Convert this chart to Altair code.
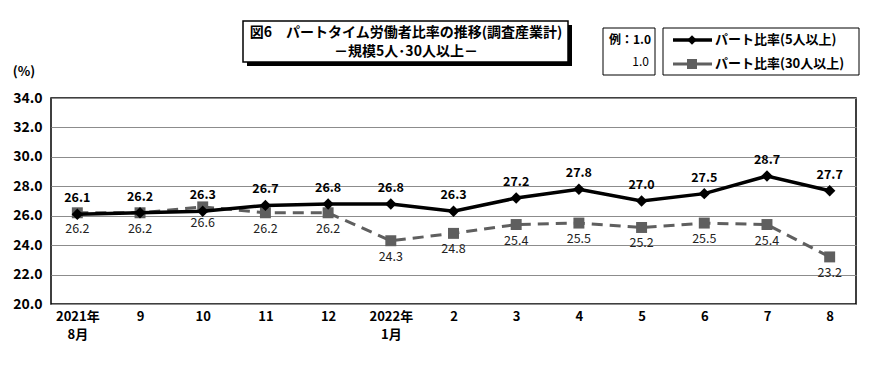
import altair as alt
import pandas as pd

months = ["2021年\n8月", "9", "10", "11", "12", "2022年\n1月", "2", "3", "4", "5", "6", "7", "8"]
part5 = [26.1, 26.2, 26.3, 26.7, 26.8, 26.8, 26.3, 27.2, 27.8, 27.0, 27.5, 28.7, 27.7]
part30 = [26.2, 26.2, 26.6, 26.2, 26.2, 24.3, 24.8, 25.4, 25.5, 25.2, 25.5, 25.4, 23.2]
y_ticks = [20, 22, 24, 26, 28, 30, 32, 34]
title_lines = ["図6　パートタイム労働者比率の推移(調査産業計)", "－規模5人･30人以上－"]
legend_labels = ["パート比率(5人以上)", "パート比率(30人以上)"]

FONT = "Noto Sans CJK JP"
df5 = pd.DataFrame({"month": months, "v": part5})
df30 = pd.DataFrame({"month": months, "v": part30})

xenc = alt.X("month:N", sort=months, title=None,
             scale=alt.Scale(type="point", padding=0.42),
             axis=alt.Axis(labelAngle=0, labelExpr="split(datum.label, '\\n')",
                           labelFont=FONT, labelFontSize=13, labelFontWeight="bold",
                           labelColor="black", labelPadding=6, labelLineHeight=18,
                           ticks=False, domain=False, grid=False))
yenc = alt.Y("v:Q", title=None,
             scale=alt.Scale(domain=[20, 34], nice=False, zero=False),
             axis=alt.Axis(values=y_ticks, format=".1f", labelFont=FONT, labelFontSize=14,
                           labelFontWeight="bold", labelColor="black", labelPadding=9,
                           ticks=False, domain=False, gridColor="#8c8c8c", gridWidth=1,
                           gridOpacity=1))

black = "#000000"
grey = "#5f5f5f"

line5 = alt.Chart(df5).mark_line(color=black, strokeWidth=3.5).encode(x=xenc, y=yenc)
pts5 = alt.Chart(df5).mark_point(shape="diamond", filled=True, color=black, size=130, opacity=1).encode(x=xenc, y=yenc)
txt5 = alt.Chart(df5).mark_text(dy=-16, font=FONT, fontSize=12.5, fontWeight="bold", color=black).encode(
    x=xenc, y=yenc, text=alt.Text("v:Q", format=".1f"))

line30 = alt.Chart(df30).mark_line(color=grey, strokeWidth=3, strokeDash=[11, 7]).encode(x=xenc, y=yenc)
pts30 = alt.Chart(df30).mark_point(shape="square", filled=True, color=grey, size=120, opacity=1).encode(x=xenc, y=yenc)
txt30 = alt.Chart(df30).mark_text(dy=16, font=FONT, fontSize=12.5, color="#222222").encode(
    x=xenc, y=yenc, text=alt.Text("v:Q", format=".1f"))

one = pd.DataFrame({"a": [0]})

def rect(x, x2, y, y2, fill, stroke=None, sw=0):
    kw = dict(fill=fill)
    if stroke:
        kw.update(stroke=stroke, strokeWidth=sw)
    return alt.Chart(one).mark_rect(**kw).encode(
        x=alt.value(x), x2=alt.value(x2), y=alt.value(y), y2=alt.value(y2))

def text(s, x, y, size=13, weight="normal", align="center", color=black):
    return alt.Chart(one).mark_text(text=s, font=FONT, fontSize=size, fontWeight=weight,
                                    align=align, baseline="middle", color=color).encode(
        x=alt.value(x), y=alt.value(y))

# title box with shadow
shadow = rect(196, 521, -73, -32, black)
tbox = rect(192, 517, -77, -36, "white", black, 1.5)
t1 = text(title_lines[0], 355, -65, 14, "bold")
t2 = text(title_lines[1], 355, -46, 14, "bold")

# small note box
nbox = rect(552, 604, -70, -23, "white", black, 1)
n1 = text("例：1.0", 579, -58, 12, "bold")
n2 = text("1.0", 598, -36, 12, "normal", "right")

# legend box
lbox = rect(612, 808, -70, -23, "white", black, 1)
leg_line1 = alt.Chart(one).mark_rule(color=black, strokeWidth=3.5).encode(
    x=alt.value(622), x2=alt.value(661), y=alt.value(-58))
leg_pt1 = alt.Chart(one).mark_point(shape="diamond", filled=True, color=black, size=90, opacity=1).encode(
    x=alt.value(641), y=alt.value(-58))
leg_line2 = alt.Chart(one).mark_rule(color=grey, strokeWidth=3).encode(
    x=alt.value(622), x2=alt.value(661), y=alt.value(-34))
leg_pt2 = alt.Chart(one).mark_point(shape="square", filled=True, color=grey, size=100, opacity=1).encode(
    x=alt.value(641), y=alt.value(-34))
lt1 = text(legend_labels[0], 664, -58, 13, "bold", "left")
lt2 = text(legend_labels[1], 664, -34, 13, "bold", "left")

pct = text("(%)", -27, -26, 13, "bold")

chart = alt.layer(
    line30, pts30, line5, pts5, txt5, txt30,
    shadow, tbox, t1, t2, nbox, n1, n2,
    lbox, leg_line1, leg_pt1, leg_line2, leg_pt2, lt1, lt2, pct
).properties(
    width=805, height=206,
    autosize=alt.AutoSizeParams(type="none"),
    padding={"left": 43, "top": 90, "right": 20, "bottom": 54},
    background="white",
).configure_view(stroke=black, strokeWidth=1.5)

chart.save("out.html", embed_options={"renderer": "svg", "actions": False})
